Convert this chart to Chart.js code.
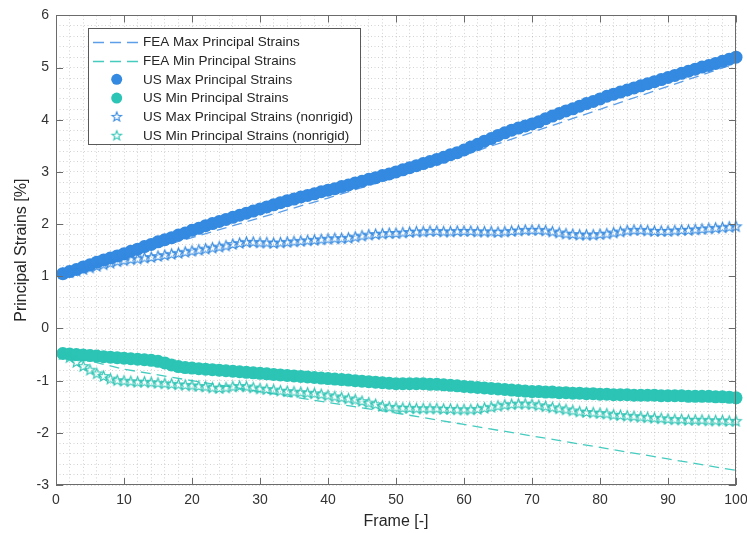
<!DOCTYPE html>
<html><head><meta charset="utf-8">
<script src="https://cdn.jsdelivr.net/npm/chart.js@4/dist/chart.umd.min.js"></script>
<style>html,body{margin:0;padding:0;background:#fff}#wrap{width:747px;height:533px;position:relative}</style>
</head><body><div id="wrap"><canvas id="c"></canvas></div>
<script>
// ---------- data ----------
const frames = [1,2,3,4,5,6,7,8,9,10,11,12,13,14,15,16,17,18,19,20,21,22,23,24,25,26,27,28,29,30,31,32,33,34,35,36,37,38,39,40,41,42,43,44,45,46,47,48,49,50,51,52,53,54,55,56,57,58,59,60,61,62,63,64,65,66,67,68,69,70,71,72,73,74,75,76,77,78,79,80,81,82,83,84,85,86,87,88,89,90,91,92,93,94,95,96,97,98,99,100];
const feaFrames = [1,10,20,30,40,50,60,70,80,90,100];
const feaMax = [1.05,1.38,1.74,2.12,2.50,2.90,3.32,3.76,4.20,4.64,5.08];
const feaMin = [-0.50,-0.78,-1.00,-1.21,-1.42,-1.62,-1.84,-2.06,-2.28,-2.50,-2.72];
const usMax = [1.05,1.09,1.13,1.18,1.22,1.27,1.31,1.35,1.39,1.43,
  1.48,1.52,1.57,1.61,1.66,1.70,1.74,1.79,1.83,1.88,
  1.92,1.97,2.01,2.05,2.09,2.13,2.17,2.21,2.25,2.29,
  2.33,2.37,2.41,2.45,2.48,2.52,2.55,2.58,2.62,2.65,
  2.68,2.72,2.75,2.79,2.82,2.86,2.89,2.93,2.96,3.00,
  3.04,3.08,3.12,3.16,3.20,3.24,3.28,3.33,3.37,3.42,
  3.48,3.53,3.59,3.64,3.70,3.75,3.80,3.84,3.88,3.92,
  3.96,4.02,4.07,4.12,4.17,4.21,4.26,4.31,4.35,4.40,
  4.45,4.49,4.53,4.57,4.61,4.65,4.69,4.73,4.77,4.81,
  4.85,4.89,4.93,4.97,5.01,5.04,5.08,5.12,5.16,5.20];
const usMin = [-0.48,-0.49,-0.50,-0.51,-0.52,-0.53,-0.54,-0.55,-0.56,-0.57,
  -0.58,-0.59,-0.60,-0.61,-0.63,-0.66,-0.70,-0.73,-0.75,-0.76,
  -0.77,-0.78,-0.79,-0.80,-0.81,-0.82,-0.83,-0.84,-0.85,-0.86,
  -0.87,-0.88,-0.89,-0.90,-0.91,-0.92,-0.93,-0.94,-0.95,-0.96,
  -0.97,-0.98,-0.99,-1.00,-1.01,-1.02,-1.03,-1.04,-1.05,-1.06,
  -1.06,-1.06,-1.06,-1.06,-1.07,-1.07,-1.08,-1.09,-1.10,-1.11,
  -1.12,-1.13,-1.14,-1.15,-1.16,-1.17,-1.18,-1.19,-1.20,-1.21,
  -1.21,-1.22,-1.22,-1.23,-1.23,-1.24,-1.24,-1.25,-1.25,-1.26,
  -1.26,-1.27,-1.27,-1.27,-1.28,-1.28,-1.28,-1.28,-1.29,-1.29,
  -1.29,-1.29,-1.30,-1.30,-1.30,-1.30,-1.31,-1.31,-1.32,-1.33];
const usMaxNR = [1.05,1.07,1.10,1.13,1.16,1.19,1.22,1.25,1.28,1.30,
  1.32,1.33,1.35,1.36,1.38,1.40,1.42,1.44,1.46,1.48,
  1.50,1.52,1.54,1.56,1.58,1.61,1.63,1.65,1.65,1.64,
  1.64,1.63,1.64,1.65,1.66,1.67,1.68,1.69,1.70,1.71,
  1.72,1.72,1.73,1.75,1.77,1.79,1.80,1.81,1.82,1.82,
  1.83,1.84,1.85,1.85,1.86,1.86,1.85,1.85,1.86,1.86,
  1.86,1.85,1.85,1.85,1.84,1.85,1.86,1.87,1.88,1.88,
  1.88,1.87,1.85,1.83,1.81,1.80,1.79,1.79,1.79,1.80,
  1.81,1.83,1.85,1.87,1.88,1.88,1.87,1.86,1.86,1.86,
  1.87,1.88,1.88,1.89,1.90,1.91,1.92,1.93,1.94,1.95];
const usMinNR = [-0.50,-0.56,-0.65,-0.73,-0.80,-0.87,-0.92,-0.97,-1.00,-1.01,
  -1.02,-1.03,-1.03,-1.04,-1.05,-1.06,-1.07,-1.08,-1.09,-1.10,
  -1.11,-1.12,-1.14,-1.15,-1.14,-1.12,-1.11,-1.12,-1.14,-1.16,
  -1.17,-1.18,-1.20,-1.21,-1.22,-1.23,-1.24,-1.25,-1.27,-1.29,
  -1.31,-1.33,-1.35,-1.37,-1.40,-1.43,-1.46,-1.49,-1.51,-1.52,
  -1.53,-1.53,-1.54,-1.54,-1.54,-1.54,-1.55,-1.55,-1.56,-1.56,
  -1.56,-1.55,-1.53,-1.51,-1.49,-1.47,-1.46,-1.45,-1.45,-1.46,
  -1.48,-1.50,-1.52,-1.54,-1.56,-1.58,-1.60,-1.61,-1.62,-1.63,
  -1.64,-1.66,-1.67,-1.68,-1.69,-1.70,-1.71,-1.72,-1.73,-1.74,
  -1.75,-1.75,-1.76,-1.76,-1.76,-1.77,-1.77,-1.77,-1.78,-1.78];
const labels = ['FEA Max Principal Strains','FEA Min Principal Strains','US Max Principal Strains','US Min Principal Strains','US Max Principal Strains (nonrigid)','US Min Principal Strains (nonrigid)'];
const xTickLabels = [0,10,20,30,40,50,60,70,80,90,100];
const yTickLabels = [-3,-2,-1,0,1,2,3,4,5,6];

// ---------- styling ----------
const BLUE = '#3489e0', TEAL = '#2cc4b4';
const BLUE_L = '#5c9fe8', TEAL_L = '#45ccbf';
const FONT = "'Liberation Sans', Arial, Helvetica, sans-serif";
Chart.defaults.font.family = FONT;

function makeStar(color, r) {
  const s = Math.ceil(r * 2 + 4);
  const c = document.createElement('canvas');
  c.width = s; c.height = s;
  const g = c.getContext('2d');
  g.strokeStyle = color; g.lineWidth = 1.1;
  g.beginPath();
  for (let k = 0; k < 10; k++) {
    const ang = -Math.PI / 2 + k * Math.PI / 5;
    const rr = (k % 2) ? r * 0.42 : r;
    const px = s / 2 + rr * Math.cos(ang), py = s / 2 + rr * Math.sin(ang);
    if (k) g.lineTo(px, py); else g.moveTo(px, py);
  }
  g.closePath(); g.stroke();
  return c;
}
const starBlue = makeStar(BLUE, 5.5);
const starTeal = makeStar(TEAL, 5.5);
const starBlueL = makeStar(BLUE, 5);
const starTealL = makeStar(TEAL, 5);

const pts = (xs, ys) => xs.map((x, i) => ({x: x, y: ys[i]}));

const datasets = [
  {label: labels[0], data: pts(feaFrames, feaMax), borderColor: BLUE_L, borderWidth: 1.3, borderDash: [10, 6], pointRadius: 0, showLine: true, fill: false, order: 6, _legendKind: 'line'},
  {label: labels[1], data: pts(feaFrames, feaMin), borderColor: TEAL_L, borderWidth: 1.3, borderDash: [10, 6], pointRadius: 0, showLine: true, fill: false, order: 5, _legendKind: 'line'},
  {label: labels[2], data: pts(frames, usMax), showLine: false, pointStyle: 'circle', pointRadius: 6.5, pointBackgroundColor: BLUE, pointBorderColor: BLUE, pointBorderWidth: 0, order: 4, clip: false, _legendKind: 'dot', _c: BLUE},
  {label: labels[3], data: pts(frames, usMin), showLine: false, pointStyle: 'circle', pointRadius: 6.5, pointBackgroundColor: TEAL, pointBorderColor: TEAL, pointBorderWidth: 0, order: 3, clip: false, _legendKind: 'dot', _c: TEAL},
  {label: labels[4], data: pts(frames, usMaxNR), showLine: false, pointStyle: starBlue, pointRadius: 5, order: 2, clip: false, _legendKind: 'star', _img: starBlueL},
  {label: labels[5], data: pts(frames, usMinNR), showLine: false, pointStyle: starTeal, pointRadius: 5, order: 1, clip: false, _legendKind: 'star', _img: starTealL}
];

const isMajor = (v, step) => Math.abs(v / step - Math.round(v / step)) < 1e-6;

const boxPlugin = {
  id: 'matlabBox',
  afterDraw(chart) {
    const {ctx, chartArea: a, scales: {x, y}} = chart;
    ctx.save();
    ctx.strokeStyle = '#6b6b6b';
    ctx.lineWidth = 1;
    ctx.setLineDash([]);
    ctx.strokeRect(Math.round(a.left) + 0.5, Math.round(a.top) + 0.5, Math.round(a.right - a.left) - 1, Math.round(a.bottom - a.top) - 1);
    const TL = 7;
    ctx.beginPath();
    xTickLabels.forEach(v => {
      const px = Math.round(x.getPixelForValue(v)) + 0.5;
      ctx.moveTo(px, a.bottom); ctx.lineTo(px, a.bottom - TL);
      ctx.moveTo(px, a.top); ctx.lineTo(px, a.top + TL);
    });
    yTickLabels.forEach(v => {
      const py = Math.round(y.getPixelForValue(v)) + 0.5;
      ctx.moveTo(a.left, py); ctx.lineTo(a.left + TL, py);
      ctx.moveTo(a.right, py); ctx.lineTo(a.right - TL, py);
    });
    ctx.stroke();

    // legend box
    const L = 88, T = 28, W = 272, H = 116;
    ctx.fillStyle = '#ffffff';
    ctx.fillRect(L, T, W, H);
    ctx.strokeStyle = '#5a5a5a';
    ctx.strokeRect(L + 0.5, T + 0.5, W, H);
    ctx.font = '13.5px ' + FONT;
    ctx.textBaseline = 'middle';
    ctx.textAlign = 'left';
    chart.data.datasets.forEach((ds, i) => {
      const yy = 41.7 + i * 18.8;
      if (ds._legendKind === 'line') {
        ctx.strokeStyle = ds.borderColor;
        ctx.lineWidth = 1.3;
        ctx.setLineDash([11, 6]);
        ctx.beginPath(); ctx.moveTo(93, Math.round(yy) + 0.5); ctx.lineTo(140, Math.round(yy) + 0.5); ctx.stroke();
        ctx.setLineDash([]);
      } else if (ds._legendKind === 'dot') {
        ctx.fillStyle = ds._c;
        ctx.beginPath(); ctx.arc(116.7, yy, 5.5, 0, Math.PI * 2); ctx.fill();
      } else {
        const im = ds._img;
        ctx.drawImage(im, 116.7 - im.width / 2, yy - im.height / 2);
      }
      ctx.fillStyle = '#262626';
      ctx.fillText(ds.label, 143, yy + 0.5);
    });
    ctx.restore();
  }
};

new Chart(document.getElementById('c'), {
  type: 'line',
  data: {datasets: datasets},
  options: {
    responsive: true,
    maintainAspectRatio: false,
    animation: false,
    events: [],
    layout: {padding: {top: 11, right: 11, left: 0, bottom: 0}},
    plugins: {legend: {display: false}, tooltip: {enabled: false}},
    scales: {
      x: {
        type: 'linear', min: 0, max: 100,
        afterFit(s) { s.height = 48; s.paddingLeft = 0; s.paddingRight = 0; },
        ticks: {stepSize: 2, autoSkip: false, maxRotation: 0, padding: 7, color: '#333', font: {size: 14},
          callback: v => xTickLabels.some(t => Math.abs(t - v) < 1e-6) ? String(Math.round(v)) : ''},
        grid: {color: 'rgba(110,110,110,0.3)', lineWidth: 1, drawTicks: false},
        border: {display: false, dash: [1, 2.5]},
        title: {display: true, text: 'Frame [-]', color: '#262626', font: {size: 16}, padding: {top: 0, bottom: 2}}
      },
      y: {
        type: 'linear', min: -3, max: 6,
        afterFit(s) { s.width = 56; },
        ticks: {stepSize: 0.2, autoSkip: false, padding: 7, color: '#333', font: {size: 14},
          callback: v => isMajor(v, 1) ? String(Math.round(v)) : ''},
        grid: {color: 'rgba(110,110,110,0.3)', lineWidth: 1, drawTicks: false},
        border: {display: false, dash: [1, 2.5]},
        title: {display: true, text: 'Principal Strains [%]', color: '#262626', font: {size: 16}, padding: {top: 12, bottom: 0}}
      }
    }
  },
  plugins: [boxPlugin]
});
</script>
</body></html>
